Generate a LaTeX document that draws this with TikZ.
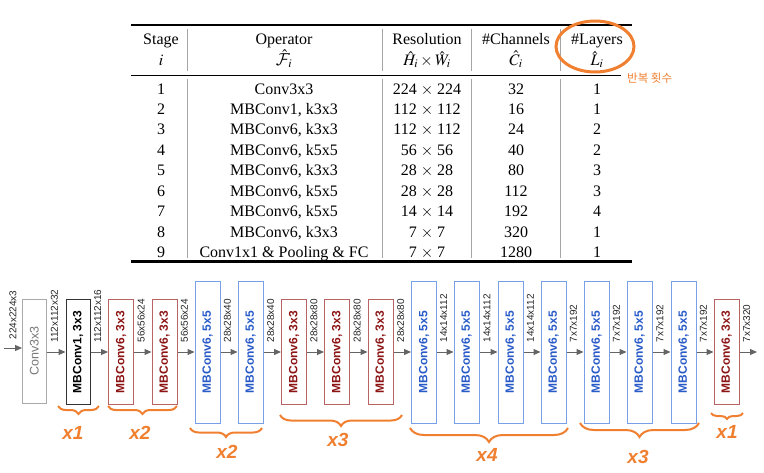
\documentclass[tikz,border=0pt]{standalone}
\usepackage{mathptmx}
\DeclareMathAlphabet{\mathcal}{OMS}{cmsy}{m}{n}
\usepackage{fontspec}
\setmainfont{Liberation Serif}
\newfontfamily\arialf{Liberation Sans}
\newfontfamily\krfont{Noto Sans CJK KR}
\usetikzlibrary{arrows.meta,decorations.pathreplacing}
\definecolor{orng}{RGB}{240,128,48}
\definecolor{bluebd}{RGB}{120,160,230}
\definecolor{bluetx}{RGB}{40,90,200}
\definecolor{redbd}{RGB}{185,100,100}
\definecolor{redtx}{RGB}{140,20,20}
\definecolor{graybd}{RGB}{170,170,170}
\definecolor{graytx}{RGB}{120,120,120}
\definecolor{blackbd}{RGB}{50,50,50}
\definecolor{arrowc}{RGB}{100,100,100}
\definecolor{sepc}{RGB}{165,165,165}
\begin{document}
\begin{tikzpicture}[x=1pt,y=-1pt,
  tab/.style={font=\fontsize{16}{16}\selectfont, inner sep=0pt, anchor=base},
  tabh/.style={font=\fontsize{16}{21}\selectfont, inner sep=0pt, anchor=base, align=center},
  rulethick/.style={line width=2.2pt, draw=black},
  rulethin/.style={line width=1pt, draw=black},
  sepline/.style={line width=1pt, draw=sepc},
  opbox/.style={draw, line width=1pt, inner sep=0pt, minimum width=25pt,
    font=\arialf\fontsize{12}{12}\selectfont\bfseries},
  bluebox/.style={opbox, draw=bluebd, text=bluetx, minimum height=142pt},
  redbox/.style={opbox, draw=redbd, text=redtx, minimum height=105pt},
  graybox/.style={opbox, draw=graybd, text=graytx, minimum width=23.5pt, minimum height=104pt,
    font=\arialf\fontsize{12.5}{12.5}\selectfont},
  blackbox/.style={opbox, draw=blackbd, text=black, minimum width=24pt, minimum height=105pt},
  flow/.style={draw=arrowc, line width=1pt, -{Triangle[length=7pt,width=6pt]}},
  dimlbl/.style={font=\arialf\fontsize{10}{10}\selectfont, text=black!85, inner sep=0pt,
    rotate=90, anchor=west},
  brc/.style={draw=orng, line width=2pt, decorate, decoration={brace, mirror, amplitude=#1}},
  mult/.style={text=orng, font=\arialf\fontsize{19}{19}\selectfont\bfseries\itshape, inner sep=0pt},
]
\fill[white] (0,0) rectangle (764,472);
\useasboundingbox (0,0) rectangle (764,472);

% ---------------- table ----------------
\draw[rulethick] (131,25) -- (632,25);
\draw[rulethin] (131,75) -- (621,75);
\draw[rulethick] (131,261.5) -- (632,261.5);
\foreach \sx in {187,382.5,471.5,560.5}{
  \draw[sepline] (\sx,29) -- (\sx,71);
  \draw[sepline] (\sx,79) -- (\sx,258);
}
\node[tabh] (hs) at (161,65.5) {Stage\\$i$};
\node[tabh] (ho) at (284,65.5) {Operator\\$\hat{\mathcal{F}}_i$};
\node[tabh] (hr) at (427,65.5) {Resolution\\$\hat{H}_i \times \hat{W}_i$};
\node[tabh] (hc) at (516,65.5) {\#Channels\\$\hat{C}_i$};
\node[tabh] (hl) at (597,65.5) {\#Layers\\$\hat{L}_i$};

\foreach \k/\op/\res/\ch/\ly in {
  1/{Conv3x3}/{224 $\times$ 224}/32/1,
  2/{MBConv1, k3x3}/{112 $\times$ 112}/16/1,
  3/{MBConv6, k3x3}/{112 $\times$ 112}/24/2,
  4/{MBConv6, k5x5}/{56 $\times$ 56}/40/2,
  5/{MBConv6, k3x3}/{28 $\times$ 28}/80/3,
  6/{MBConv6, k5x5}/{28 $\times$ 28}/112/3,
  7/{MBConv6, k5x5}/{14 $\times$ 14}/192/4,
  8/{MBConv6, k3x3}/{7 $\times$ 7}/320/1,
  9/{Conv1x1 \& Pooling \& FC}/{7 $\times$ 7}/1280/1}{
  \pgfmathsetmacro\yb{88.7+20.44*(\k-1)+5.4}
  \node[tab] (st\k) at (161,\yb) {\k};
  \node[tab] (op\k) at (284,\yb) {\op};
  \node[tab] (rs\k) at (427,\yb) {\res};
  \node[tab] (ch\k) at (516,\yb) {\ch};
  \node[tab] (ly\k) at (597,\yb) {\ly};
}
\draw[orng, line width=3pt] (595,46.5) ellipse [x radius=39, y radius=25.5];
\node[text=orng, font=\krfont\fontsize{11.5}{11.5}\selectfont, anchor=west, inner sep=0pt] (kr) at (627,78) {반복 횟수};

% ---------------- network ----------------
\node[graybox] (b0) at (34.3,351) {\rotatebox{90}{Conv3x3}};
\node[blackbox] (b1) at (78,352) {\rotatebox{90}{MBConv1, 3x3}};
\node[redbox] (b2) at (121,352) {\rotatebox{90}{MBConv6, 3x3}};
\node[redbox] (b3) at (164.5,352) {\rotatebox{90}{MBConv6, 3x3}};
\node[bluebox] (b4) at (207.5,352) {\rotatebox{90}{MBConv6, 5x5}};
\node[bluebox] (b5) at (250.5,352) {\rotatebox{90}{MBConv6, 5x5}};
\node[redbox] (b6) at (294,352) {\rotatebox{90}{MBConv6, 3x3}};
\node[redbox] (b7) at (337,352) {\rotatebox{90}{MBConv6, 3x3}};
\node[redbox] (b8) at (380.5,352) {\rotatebox{90}{MBConv6, 3x3}};
\node[bluebox] (b9) at (424,352) {\rotatebox{90}{MBConv6, 5x5}};
\node[bluebox] (b10) at (466.5,352) {\rotatebox{90}{MBConv6, 5x5}};
\node[bluebox] (b11) at (510.5,352) {\rotatebox{90}{MBConv6, 5x5}};
\node[bluebox] (b12) at (553.5,352) {\rotatebox{90}{MBConv6, 5x5}};
\node[bluebox] (b13) at (596.5,352) {\rotatebox{90}{MBConv6, 5x5}};
\node[bluebox] (b14) at (639.5,352) {\rotatebox{90}{MBConv6, 5x5}};
\node[bluebox] (b15) at (683.5,352) {\rotatebox{90}{MBConv6, 5x5}};
\node[redbox] (b16) at (726.5,352) {\rotatebox{90}{MBConv6, 3x3}};

\coordinate (in) at (4,348);
\coordinate (out) at (757,352);
\draw[flow] (in) -- (in -| b0.west) node[midway, yshift=8pt, dimlbl] {224x224x3};
\foreach \a/\b/\t in {b0/b1/112x112x32, b1/b2/112x112x16, b2/b3/56x56x24, b3/b4/56x56x24,
  b4/b5/28x28x40, b5/b6/28x28x40, b6/b7/28x28x80, b7/b8/28x28x80, b8/b9/28x28x80,
  b9/b10/14x14x112, b10/b11/14x14x112, b11/b12/14x14x112, b12/b13/7x7x192,
  b13/b14/7x7x192, b14/b15/7x7x192, b15/b16/7x7x192, b16/out/7x7x320}{
  \draw[flow] (\a.east |- 0,352) -- (\b.west |- 0,352) node[midway, xshift=-1.5pt, yshift=9pt, dimlbl] {\t};
}

% braces
\draw[brc=8pt] (58,406) -- (99,406);
\draw[brc=8pt] (108,406) -- (177,406);
\draw[brc=9pt] (190,428) -- (262,428);
\draw[brc=11pt] (280,415) -- (402,415);
\draw[brc=14pt] (410,428) -- (568,428);
\draw[brc=14pt] (580,423) -- (699,423);
\draw[brc=6pt] (711,413) -- (743,413);
\node[mult] (m1) at (73,433) {x1};
\node[mult] (m2) at (140,433) {x2};
\node[mult] (m3) at (227,452) {x2};
\node[mult] (m4) at (338,440) {x3};
\node[mult] (m5) at (487,455) {x4};
\node[mult] (m6) at (638,457) {x3};
\node[mult] (m7) at (727,432) {x1};
\end{tikzpicture}
\end{document}
